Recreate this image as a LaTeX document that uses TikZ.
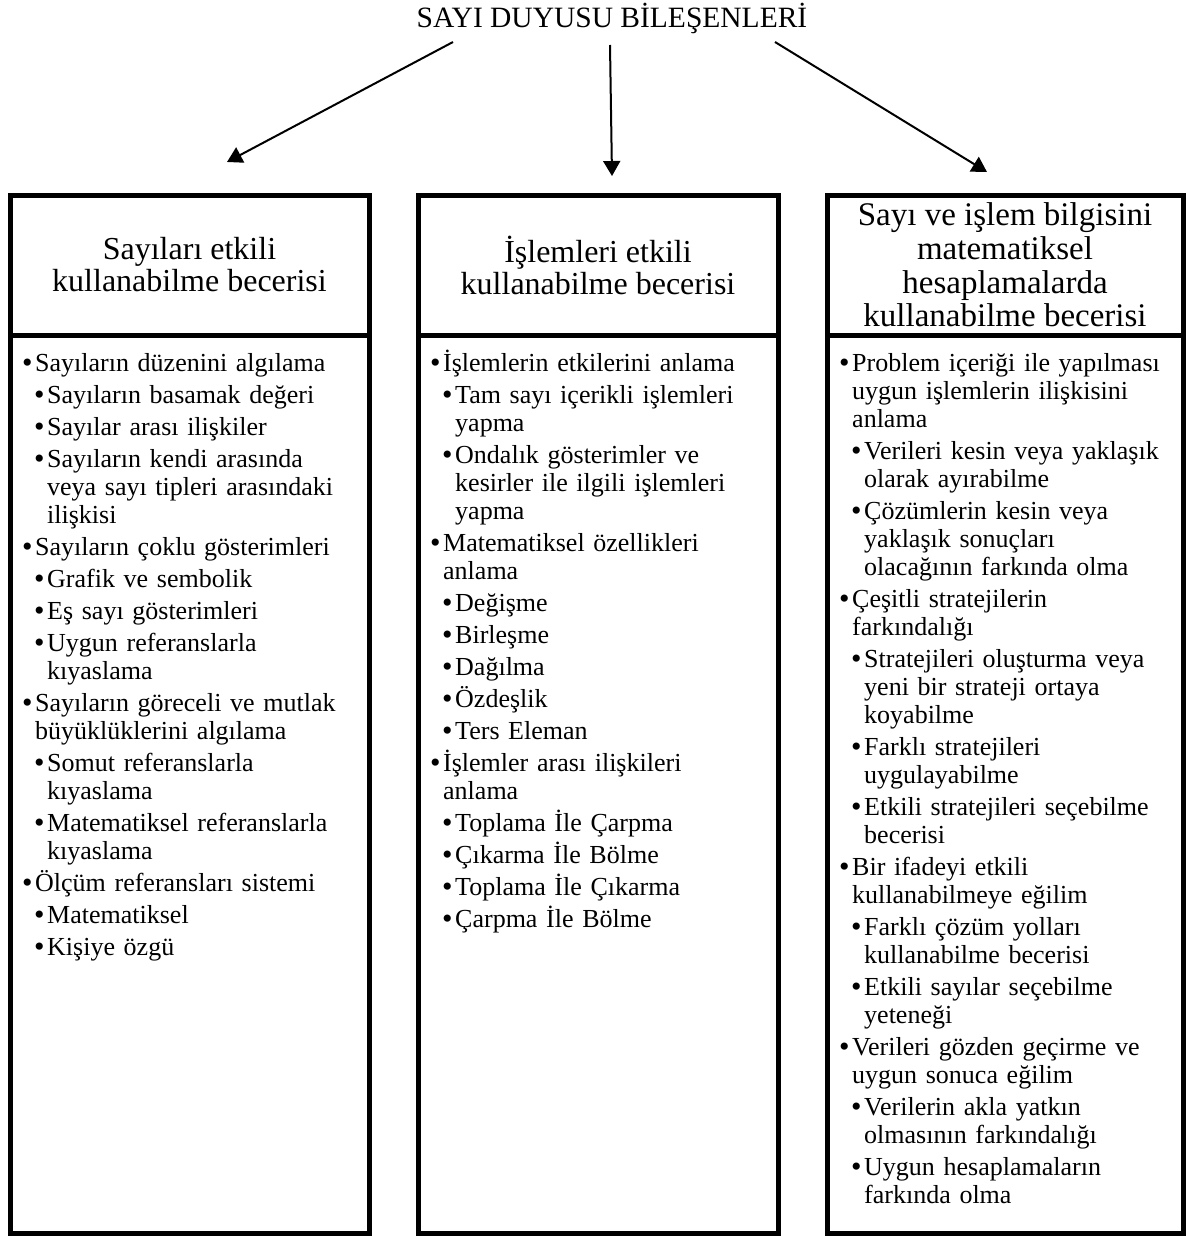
\documentclass[tikz,border=0pt]{standalone}
\usepackage{fontspec}
\setmainfont{Liberation Serif}
\usepackage{tikz}
\usetikzlibrary{arrows}
\usetikzlibrary{arrows.meta}
\usetikzlibrary{positioning}
\tikzset{pointer/.style = {line width=2pt, -{Triangle[length=15pt,width=17pt]}}}
\tikzset{headbox/.style = {draw, line width=5pt, outer sep=0pt, inner sep=0pt,
                           minimum height=140pt, align=center,
                           font=\fontsize{32}{32}\selectfont}}
\tikzset{framebox/.style = {draw, line width=5pt, outer sep=0pt, inner sep=0pt,
                            minimum height=898pt, anchor=north}}
\tikzset{listbox/.style = {anchor=north west, inner sep=0pt, text width=340pt,
                           font=\fontsize{26}{28}\selectfont}}
\newcommand{\lstart}{\raggedright\setlength{\parskip}{4pt}\lineskiplimit=-20pt\relax}
\newcommand{\dotmark}{\makebox[13pt][l]{\raisebox{-1.4pt}{\scalebox{1.15}{\textbullet}}}}
\newcommand{\ia}[1]{\par\noindent\hangindent=13pt\hangafter=1\strut\dotmark#1}
\newcommand{\ib}[1]{\par\noindent\hangindent=25pt\hangafter=1\strut\hspace*{12pt}\dotmark#1}

\begin{document}
\begin{tikzpicture}[x=1pt, y=1pt]
    \useasboundingbox (0, 0) rectangle (1186, -1236);
    \node [anchor=base, font=\fontsize{29.5}{30}\selectfont] (title) at (612, -28) {SAYI DUYUSU BİLEŞENLERİ};

    % headings
    \node [headbox, minimum width=359pt] (h1) at (189.5, -265) {Sayıları etkili\\kullanabilme becerisi};
    \node [headbox, minimum width=360pt] (h2) at (598, -265) {İşlemleri etkili\\kullanabilme becerisi};
    \node [headbox, minimum width=356pt, font=\fontsize{33}{33.6}\selectfont] (h3) at (1005, -265)
          {Sayı ve işlem bilgisini\\matematiksel\\hesaplamalarda\\kullanabilme becerisi};

    % arrows
    \coordinate (s1) at (453, -42);
    \coordinate (t1) at (227, -162);
    \coordinate (s2) at (610, -45);
    \coordinate (t2) at (612, -176);
    \coordinate (s3) at (775, -42);
    \coordinate (t3) at (987, -172);
    \draw [pointer] (s1) -- (t1);
    \draw [pointer] (s2) -- (t2);
    \draw [pointer] (s3) -- (t3);

    % lists
    \node [framebox, minimum width=359pt] (f1) at (h1.south) {};
    \node [framebox, minimum width=360pt] (f2) at (h2.south) {};
    \node [framebox, minimum width=356pt] (f3) at (h3.south) {};

    \node [listbox] (l1) at ([xshift=12pt, yshift=-4pt]f1.north west) {\lstart
      \ia{Sayıların düzenini algılama}
      \ib{Sayıların basamak değeri}
      \ib{Sayılar arası ilişkiler}
      \ib{Sayıların kendi arasında\newline veya sayı tipleri arasındaki\newline ilişkisi}
      \ia{Sayıların çoklu gösterimleri}
      \ib{Grafik ve sembolik}
      \ib{Eş sayı gösterimleri}
      \ib{Uygun referanslarla\newline kıyaslama}
      \ia{Sayıların göreceli ve mutlak\newline büyüklüklerini algılama}
      \ib{Somut referanslarla\newline kıyaslama}
      \ib{Matematiksel referanslarla\newline kıyaslama}
      \ia{Ölçüm referansları sistemi}
      \ib{Matematiksel}
      \ib{Kişiye özgü}\par};

    \node [listbox] (l2) at ([xshift=12pt, yshift=-4pt]f2.north west) {\lstart
      \ia{İşlemlerin etkilerini anlama}
      \ib{Tam sayı içerikli işlemleri\newline yapma}
      \ib{Ondalık gösterimler ve\newline kesirler ile ilgili işlemleri\newline yapma}
      \ia{Matematiksel özellikleri\newline anlama}
      \ib{Değişme}
      \ib{Birleşme}
      \ib{Dağılma}
      \ib{Özdeşlik}
      \ib{Ters Eleman}
      \ia{İşlemler arası ilişkileri\newline anlama}
      \ib{Toplama İle Çarpma}
      \ib{Çıkarma İle Bölme}
      \ib{Toplama İle Çıkarma}
      \ib{Çarpma İle Bölme}\par};

    \node [listbox] (l3) at ([xshift=12pt, yshift=-4pt]f3.north west) {\lstart
      \ia{Problem içeriği ile yapılması\newline uygun işlemlerin ilişkisini\newline anlama}
      \ib{Verileri kesin veya yaklaşık\newline olarak ayırabilme}
      \ib{Çözümlerin kesin veya\newline yaklaşık sonuçları\newline olacağının farkında olma}
      \ia{Çeşitli stratejilerin\newline farkındalığı}
      \ib{Stratejileri oluşturma veya\newline yeni bir strateji ortaya\newline koyabilme}
      \ib{Farklı stratejileri\newline uygulayabilme}
      \ib{Etkili stratejileri seçebilme\newline becerisi}
      \ia{Bir ifadeyi etkili\newline kullanabilmeye eğilim}
      \ib{Farklı çözüm yolları\newline kullanabilme becerisi}
      \ib{Etkili sayılar seçebilme\newline yeteneği}
      \ia{Verileri gözden geçirme ve\newline uygun sonuca eğilim}
      \ib{Verilerin akla yatkın\newline olmasının farkındalığı}
      \ib{Uygun hesaplamaların\newline farkında olma}\par};
  \end{tikzpicture}
\end{document}
